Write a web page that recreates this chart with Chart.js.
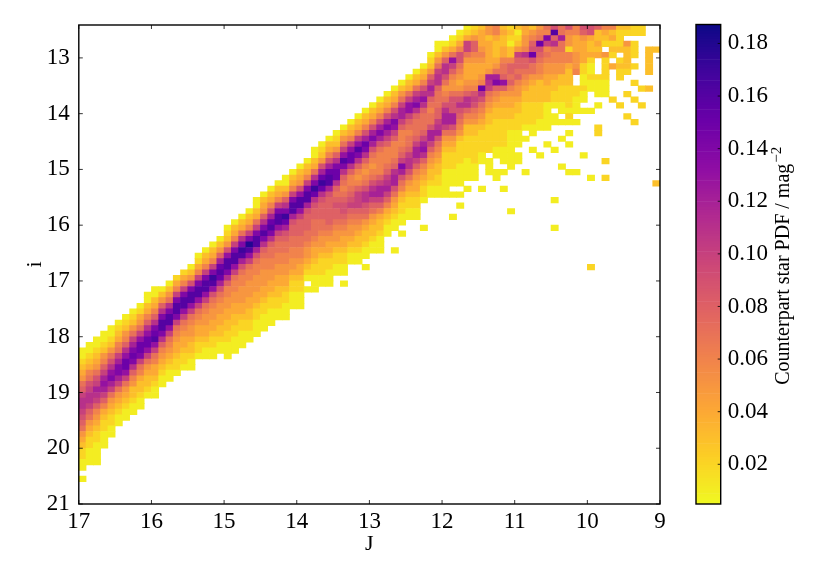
<!DOCTYPE html>
<html>
<head>
<meta charset="utf-8">
<style>
    body { margin: 0; background: #fff; }
    canvas { position: absolute; top: 0; }
</style>
<script src="https://cdn.jsdelivr.net/npm/chart.js@4"></script>
</head>
<body>
<canvas id="heat" width="690" height="581" style="left:0"></canvas>
<canvas id="bar" width="140" height="581" style="left:690px"></canvas>
<script>
// J bins run 17 -> 9 in steps of 0.1, i bins run down from 12.4 in steps of 0.1
const jTicks = [17, 16, 15, 14, 13, 12, 11, 10, 9];
const iTicks = [13, 14, 15, 16, 17, 18, 19, 20, 21];
const pdfTicks = [0.02, 0.04, 0.06, 0.08, 0.10, 0.12, 0.14, 0.16, 0.18];

// first filled i row of every J column
const firstRow = [58, 57, 56, 55, 54, 53, 52, 51, 50, 48, 47, 47, 46, 45, 44, 43, 41, 40, 39, 38,
    36, 35, 34, 33, 31, 30, 29, 28, 27, 26, 25, 24, 22, 21, 20, 19, 18, 17, 16, 15,
    14, 13, 12, 11, 10, 9, 8, 7, 5, 3, 3, 2, 1, 0, 0, 0, 0, 0, 0, 0,
    0, 0, 0, 0, 0, 0, 0, 0, 0, 0, 0, 0, 0, 0, 0, 0, 0, 0, 0, 0];

// PDF per column, in units of 0.01, 0 = empty cell
const columnPdf = [
    [1,1,2,3,4,5,7,8,10,11,11,10,9,8,7,5,4,3,2,2,1,1,0,1],
    [1,1,2,3,4,6,7,9,10,11,11,10,8,7,5,4,3,2,2,1,1,1],
    [1,1,2,3,4,5,7,9,10,12,11,10,8,6,5,4,3,2,2,1,1,1,1],
    [1,1,2,3,5,6,8,10,12,13,12,10,8,6,4,3,2,2,1,1,1],
    [1,1,2,3,5,7,9,11,13,14,12,10,7,5,4,3,2,2,1,1],
    [1,2,3,4,6,7,10,12,14,14,12,10,7,5,4,3,2,1,1],
    [1,2,3,5,6,8,11,13,15,15,13,10,7,5,4,3,2,1,1],
    [1,2,3,5,7,10,12,14,15,14,11,8,6,5,3,3,2,1,1],
    [1,2,4,5,7,10,13,15,15,14,10,7,6,4,3,3,2,1,1],
    [1,1,3,4,6,8,11,13,15,15,13,10,7,5,4,3,3,2,1],
    [1,1,3,4,6,8,11,14,15,16,13,10,7,6,4,4,3,2,1,1],
    [1,3,5,8,11,14,16,16,14,11,8,6,5,4,3,2,1,1],
    [1,3,5,7,11,14,16,16,13,10,7,6,5,4,3,2,1,1],
    [2,4,6,10,14,16,16,14,10,7,6,5,4,4,3,2,2,1],
    [2,4,6,10,14,16,16,13,10,7,6,5,4,4,3,2,2,1],
    [1,3,5,9,14,16,16,13,10,7,6,5,5,4,3,3,2,1,1],
    [1,2,4,6,10,14,16,16,13,10,7,6,5,4,4,3,2,2,1],
    [1,3,4,6,10,14,16,16,13,10,7,6,5,5,4,4,3,2,1,1],
    [1,3,4,6,10,14,17,16,13,9,7,6,5,5,4,4,3,2,2,1,1],
    [1,3,5,8,12,15,16,15,12,9,7,6,5,5,4,4,3,3,2,1,1],
    [1,2,3,5,9,13,16,16,14,11,8,6,6,5,5,4,4,3,3,2,2,1,1,1],
    [1,3,4,6,10,14,16,16,13,10,7,6,6,5,5,4,4,3,3,2,2,1,1,1],
    [1,3,4,7,11,14,17,16,12,9,7,6,6,5,5,5,4,4,3,2,2,1,1,1],
    [1,3,4,6,10,14,18,16,13,10,7,6,6,5,5,5,4,4,3,3,2,2,1,1],
    [1,1,3,4,7,10,14,16,16,12,9,7,6,6,5,5,5,4,4,3,2,2,1,1,1],
    [1,3,4,5,8,11,14,16,14,11,8,7,6,6,5,5,5,4,4,3,2,2,1,1,1],
    [1,3,4,6,9,12,15,16,14,11,8,7,7,6,6,5,5,4,4,3,2,2,1,1,1],
    [1,3,4,6,10,14,16,16,13,10,8,7,7,6,6,5,5,4,4,3,3,2,2,1,1],
    [1,1,3,5,8,11,14,17,15,12,9,8,7,7,6,6,5,5,4,4,3,2,2,1,1,1],
    [1,3,4,6,10,14,16,16,12,9,8,8,7,7,6,6,5,5,4,3,2,2,1,1,1],
    [1,3,4,5,9,13,16,16,13,10,8,8,8,7,7,6,6,5,4,4,3,2,2,1,1,1],
    [1,3,4,6,10,14,16,16,12,9,8,8,8,7,7,6,5,5,4,3,2,1,0,1],
    [1,1,3,4,7,11,14,17,15,11,9,8,8,7,7,7,6,5,4,4,3,2,2,1,1,1],
    [1,2,3,5,9,12,15,17,15,11,9,8,8,8,7,7,6,5,5,4,3,2,2,2,1,1],
    [1,3,4,6,9,12,15,16,16,12,9,8,8,8,8,8,7,6,5,4,4,3,2,2,1,1,1],
    [1,2,3,5,8,11,14,15,15,11,8,7,8,9,8,8,7,6,5,5,4,3,2,2,1,1],
    [1,3,5,7,10,13,16,14,11,8,7,6,7,8,9,9,8,7,6,5,4,4,3,2,2,1,1,0,1],
    [1,3,4,6,10,13,15,15,11,8,6,6,7,8,9,10,8,7,6,5,5,4,3,2,1,1],
    [1,3,4,6,10,13,16,14,11,8,6,5,6,8,10,10,10,8,7,6,5,4,3,3,2,1,1],
    [1,3,4,6,9,12,15,14,11,8,6,5,6,7,9,11,11,9,8,7,5,4,3,3,2,1,1,0,1],
    [1,3,4,6,9,12,14,12,9,7,6,5,6,7,9,11,12,10,8,7,5,4,3,3,2,1,1],
    [1,3,4,6,9,12,14,12,9,7,6,6,6,6,8,10,12,12,10,8,6,4,3,3,2,1,1,1],
    [1,3,4,6,9,12,14,12,10,8,6,6,6,7,8,10,11,12,10,8,6,4,3,2,1,1],
    [1,3,4,6,9,11,14,13,10,8,6,6,6,7,8,11,12,12,9,7,5,4,3,2,1,1,0,0,0,1],
    [1,3,5,7,10,12,12,10,8,6,6,6,7,8,10,14,12,9,7,6,4,3,2,2,1,1,0,1],
    [1,3,4,7,10,13,13,10,8,7,6,7,7,8,10,11,11,9,7,5,4,3,2,2,1,1],
    [1,3,4,7,10,12,14,11,8,7,7,7,8,10,12,12,10,8,6,5,4,4,3,2,2,1,1],
    [1,3,4,6,9,11,13,11,8,7,7,7,8,10,12,13,11,8,6,5,4,3,2,2,1,0,0,0,0,1],
    [1,2,3,5,8,10,12,11,8,7,6,7,7,9,12,12,10,8,6,5,4,3,3,2,1,1],
    [1,1,3,5,7,10,11,11,8,7,7,7,8,8,10,11,12,9,7,6,5,4,3,3,2,2,1,1],
    [1,3,5,8,11,11,9,7,5,6,7,9,11,12,12,10,7,5,4,3,2,2,2,1,1,1,1,1],
    [1,2,4,7,13,10,8,6,5,5,7,9,9,9,12,12,9,7,5,4,3,2,2,2,1,1,1,0,1,0,0,0,1],
    [1,2,4,6,9,9,7,6,5,4,5,7,9,11,9,8,7,6,5,3,2,2,2,2,1,1,1,1,0,1,0,1],
    [1,2,4,10,10,7,5,4,4,4,5,6,8,11,11,8,6,5,3,3,2,2,2,2,1,1,1,1,0,1],
    [2,3,5,8,8,6,5,4,4,4,5,6,9,10,9,7,6,5,3,3,2,2,2,2,2,1,1,1],
    [3,4,4,4,5,6,5,4,4,5,6,15,11,9,7,6,5,4,3,2,2,2,2,1,1,0,0,0,0,1],
    [5,5,3,4,4,4,4,4,5,12,11,10,7,6,5,4,3,3,2,2,2,2,2,0,1,1,1],
    [6,6,4,3,3,3,4,5,7,12,14,8,6,5,4,3,3,2,2,2,2,2,1,1,0,0,1,1],
    [3,4,3,3,4,4,6,7,7,8,13,8,5,4,4,3,3,2,2,2,2,2,1,1,1,0,1,0,0,1],
    [2,3,2,1,3,3,6,8,8,7,8,6,5,4,4,3,3,2,2,1,1,1,1,1,1,1,0,0,0,0,0,0,0,1],
    [3,1,2,3,5,10,8,8,7,8,6,5,5,4,3,3,2,2,2,1,1,1,0,1,1],
    [4,4,5,5,6,11,8,8,7,6,5,4,3,3,2,2,2,2,1,0,1,0,0,0,0,0,1],
    [3,5,6,8,9,15,9,7,7,5,4,3,3,3,2,2,2,2,1,1,0,0,1],
    [5,6,7,15,9,8,7,6,6,5,3,3,3,3,2,2,2,1,1,0,0,0,0,1],
    [7,6,14,10,6,7,6,5,5,4,4,3,3,3,1,1,1,1,1,0,0,1],
    [9,16,8,11,7,6,6,5,5,4,3,3,2,2,1,0,1,1,0,0,0,0,1,0,0,0,0,0,0,0,0,1,0,0,0,0,1],
    [7,7,12,7,7,6,6,5,5,3,3,2,2,2,1,1,0,1,0,0,1,0,0,0,0,1],
    [9,6,5,5,2,6,6,4,3,3,3,2,2,2,2,1,2,1,0,1,0,1,0,0,0,0,1],
    [6,6,4,4,4,5,5,5,6,0,0,2,2,1,1,1,0,1,0,0,0,0,0,0,0,0,1],
    [9,8,5,4,4,4,4,2,2,1,1,2,1,1,0,1,0,0,0,0,0,0,0,1],
    [9,9,4,3,3,4,2,1,1,2,1,1,0,0,0,1,0,0,0,0,0,0,0,0,0,0,0,1,0,0,0,0,0,0,0,0,0,0,0,0,0,0,0,2],
    [8,3,3,4,3,4,0,0,0,2,1,1,1,0,1,0,0,0,2,2],
    [6,4,3,2,0,5,2,2,2,2,1,1,1,0,0,0,0,0,0,0,0,0,0,0,2,0,0,2],
    [6,3,4,2,3,2,0,4,0,0,0,0,0,2],
    [3,2,2,2,3,0,2,3,2,2,0,0,0,0,2],
    [3,2,0,5,3,3,3,3,2,0,0,0,2,0,0,0,2],
    [2,2,0,2,2,2,0,2,0,0,2,0,0,2,0,0,0,2],
    [2,2,0,0,0,0,0,0,0,0,0,2,0,0,2],
    [0,0,0,0,3,3,3,3,3,0,0,3],
    [0,0,0,0,3,0,0,0,0,0,0,0,0,0,0,0,0,0,0,0,0,0,0,0,0,0,0,0,3]
];

// plasma reversed, low values yellow
const colormap = ['#f0f921', '#fcce25', '#fca636', '#f1844b', '#e16462', '#cc4778', '#b12a90', '#8f0da4', '#6a00a8', '#41049d', '#0d0887'];
const pdfMin = 0.0049;
const pdfMax = 0.1872;

function hexToRgb(hex) {
    return [1, 3, 5].map((p) => parseInt(hex.slice(p, p + 2), 16));
}

function colorFor(value) {
    const t = Math.min(Math.max((value - pdfMin) / (pdfMax - pdfMin), 0), 1) * (colormap.length - 1);
    const low = Math.min(Math.floor(t), colormap.length - 2);
    const a = hexToRgb(colormap[low]);
    const b = hexToRgb(colormap[low + 1]);
    const rgb = a.map((c, k) => Math.round(c + (b[k] - c) * (t - low)));
    return `rgb(${rgb[0]}, ${rgb[1]}, ${rgb[2]})`;
}

// turn the columns into floating bars
const cells = [];
columnPdf.forEach((column, c) => {
    column.forEach((v, k) => {
        if (!v) return;
        const top = 12.4 + (firstRow[c] + k) * 0.1;
        cells.push({ x: 17 - (c + 0.5) * 0.1, y: [top, top + 0.1], v: v * 0.01 });
    });
});

const levels = [];
for (let v = pdfMin; v < pdfMax; v += 0.001) {
    levels.push({ x: 0.5, y: [v, Math.min(v + 0.001, pdfMax)], v: v + 0.0005 });
}

const fontFamily = '"Liberation Serif", serif';

// matplotlib style box with inward ticks
function framePlugin(tickLength, bothSides) {
    return {
        id: 'frame',
        afterDatasetsDraw(chart) {
            const { ctx, chartArea: a, scales } = chart;
            ctx.save();
            ctx.strokeStyle = '#000';
            ctx.lineWidth = 0.8;
            ctx.beginPath();
            if (bothSides) {
                scales.x.ticks.forEach((t) => {
                    const px = scales.x.getPixelForValue(t.value);
                    ctx.moveTo(px, a.top);
                    ctx.lineTo(px, a.top + tickLength);
                    ctx.moveTo(px, a.bottom);
                    ctx.lineTo(px, a.bottom - tickLength);
                });
            }
            scales.y.ticks.forEach((t) => {
                const py = scales.y.getPixelForValue(t.value);
                if (bothSides) {
                    ctx.moveTo(a.left, py);
                    ctx.lineTo(a.left + tickLength, py);
                }
                ctx.moveTo(a.right, py);
                ctx.lineTo(a.right - tickLength, py);
            });
            ctx.stroke();
            ctx.lineWidth = 1.4;
            ctx.strokeRect(a.left, a.top, a.right - a.left, a.bottom - a.top);
            ctx.restore();
        },
    };
}

const heatChart = new Chart(document.getElementById('heat').getContext('2d'), {
    type: 'bar',
    data: {
        datasets: [{
            data: cells,
            backgroundColor: (c) => colorFor(c.raw ? c.raw.v : 0),
            barThickness: 7.27,
            borderWidth: 0,
        }],
    },
    options: {
        responsive: false,
        animation: false,
        layout: { padding: { left: 0, right: 30, top: 25, bottom: 0 } },
        plugins: { legend: { display: false }, tooltip: { enabled: false } },
        scales: {
            x: {
                type: 'linear',
                offset: false,
                reverse: true,
                min: 9,
                max: 17,
                afterFit: (s) => { s.height = 77; },
                afterBuildTicks: (s) => { s.ticks = jTicks.map((value) => ({ value })); },
                grid: { display: false, drawTicks: false },
                border: { display: false },
                ticks: { color: '#000', padding: 4, maxRotation: 0, font: { family: fontFamily, size: 23 } },
                title: { display: true, text: 'J', color: '#000', padding: { top: 0, bottom: 24 }, font: { family: fontFamily, size: 22 } },
            },
            y: {
                type: 'linear',
                reverse: true,
                min: 12.41,
                max: 21,
                afterFit: (s) => { s.width = 78.8; },
                afterBuildTicks: (s) => { s.ticks = iTicks.map((value) => ({ value })); },
                grid: { display: false, drawTicks: false },
                border: { display: false },
                ticks: { color: '#000', padding: 9, font: { family: fontFamily, size: 23 } },
                title: { display: true, text: 'i', color: '#000', padding: { top: 22, bottom: 0 }, font: { family: fontFamily, size: 22 } },
            },
        },
    },
    plugins: [framePlugin(4, true)],
});

const colorbarTitle = {
    id: 'colorbarTitle',
    afterDraw(chart) {
        const { ctx, chartArea: a } = chart;
        const label = 'Counterpart star PDF / mag';
        const power = '\u22122';
        ctx.save();
        ctx.fillStyle = '#000';
        ctx.translate(99, (a.top + a.bottom) / 2 + 1);
        ctx.rotate(-Math.PI / 2);
        ctx.font = `20px ${fontFamily}`;
        const w = ctx.measureText(label).width;
        ctx.textBaseline = 'alphabetic';
        ctx.fillText(label, -w / 2 - 9, 0);
        ctx.font = `15px ${fontFamily}`;
        ctx.fillText(power, w / 2 - 8, -8);
        ctx.restore();
    },
};

const barChart = new Chart(document.getElementById('bar').getContext('2d'), {
    type: 'bar',
    data: {
        datasets: [{
            data: levels,
            backgroundColor: (c) => colorFor(c.raw ? c.raw.v : 0),
            barThickness: 24.7,
            borderWidth: 0,
        }],
    },
    options: {
        responsive: false,
        animation: false,
        layout: { padding: { left: 6, right: 0, top: 24.5, bottom: 77 } },
        plugins: { legend: { display: false }, tooltip: { enabled: false } },
        scales: {
            x: { type: 'linear', offset: false, display: false, min: 0, max: 1 },
            y: {
                type: 'linear',
                position: 'right',
                min: pdfMin,
                max: pdfMax,
                afterFit: (s) => { s.width = 109.3; },
                afterBuildTicks: (s) => { s.ticks = pdfTicks.map((value) => ({ value })); },
                grid: { display: false, drawTicks: false },
                border: { display: false },
                ticks: {
                    color: '#000',
                    padding: 7,
                    callback: (v) => Number(v).toFixed(2),
                    font: { family: fontFamily, size: 23 },
                },
            },
        },
    },
    plugins: [framePlugin(3, false), colorbarTitle],
});
</script>
</body>
</html>
